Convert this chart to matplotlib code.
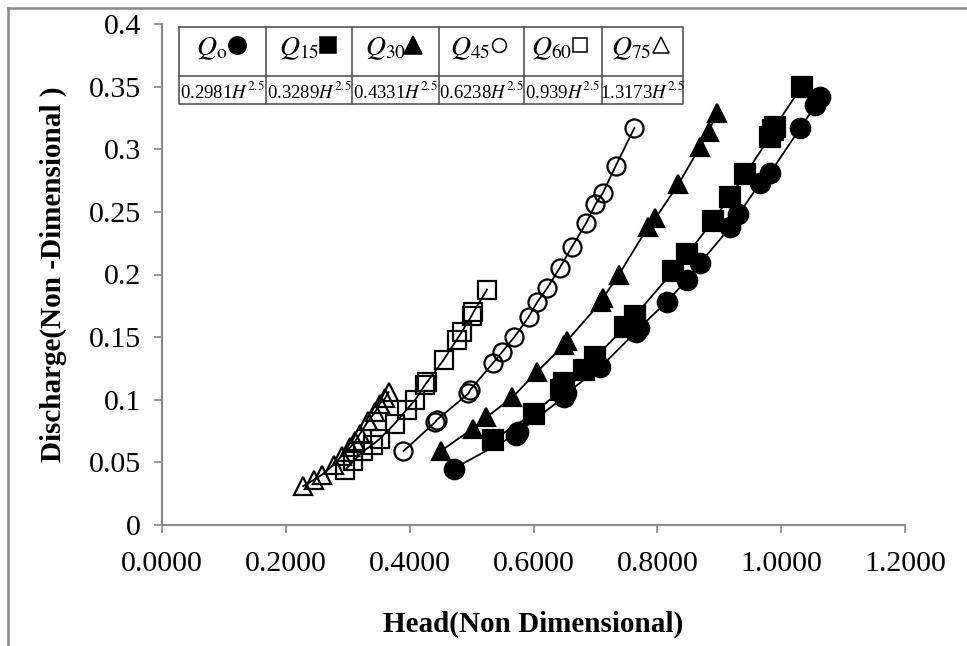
import matplotlib
matplotlib.use("Agg")
import matplotlib.pyplot as plt

plt.rcParams["font.family"] = ["Liberation Serif", "DejaVu Sans"]
plt.rcParams["mathtext.fontset"] = "stix"

# Datos
h0 = [0.471, 0.571, 0.575, 0.649, 0.653, 0.708, 0.765, 0.770, 0.815, 0.848, 0.869,
      0.918, 0.931, 0.966, 0.982, 1.031, 1.055, 1.063]
q0 = [0.045, 0.072, 0.074, 0.102, 0.105, 0.126, 0.154, 0.157, 0.178, 0.196, 0.209,
      0.238, 0.248, 0.273, 0.281, 0.317, 0.335, 0.342]

h15 = [0.535, 0.600, 0.645, 0.650, 0.681, 0.700, 0.748, 0.764, 0.826, 0.848, 0.890,
       0.917, 0.942, 0.982, 0.987, 0.990, 1.033]
q15 = [0.068, 0.089, 0.108, 0.113, 0.124, 0.134, 0.158, 0.167, 0.203, 0.216, 0.243,
       0.262, 0.280, 0.310, 0.315, 0.318, 0.350]

h30 = [0.450, 0.502, 0.524, 0.566, 0.605, 0.650, 0.654, 0.709, 0.712, 0.738, 0.785,
       0.797, 0.834, 0.869, 0.883, 0.896]
q30 = [0.059, 0.077, 0.086, 0.102, 0.122, 0.144, 0.147, 0.178, 0.181, 0.200, 0.238,
       0.245, 0.272, 0.302, 0.314, 0.329]

h45 = [0.390, 0.441, 0.444, 0.495, 0.498, 0.534, 0.549, 0.569, 0.592, 0.606, 0.622,
       0.642, 0.662, 0.685, 0.700, 0.712, 0.733, 0.763]
q45 = [0.059, 0.082, 0.084, 0.105, 0.108, 0.129, 0.138, 0.150, 0.166, 0.178, 0.189,
       0.205, 0.222, 0.241, 0.256, 0.265, 0.287, 0.317]

h60 = [0.296, 0.309, 0.325, 0.340, 0.352, 0.376, 0.395, 0.409, 0.425, 0.428, 0.455,
       0.476, 0.484, 0.500, 0.503, 0.525]
q60 = [0.044, 0.051, 0.059, 0.064, 0.069, 0.081, 0.092, 0.100, 0.112, 0.114, 0.132,
       0.148, 0.154, 0.167, 0.170, 0.188]

h75 = [0.228, 0.245, 0.258, 0.277, 0.290, 0.304, 0.312, 0.320, 0.333, 0.344, 0.352,
       0.360, 0.366]
q75 = [0.031, 0.036, 0.040, 0.048, 0.055, 0.062, 0.067, 0.073, 0.083, 0.090, 0.097,
       0.101, 0.106]

etiquetas = [r"$Q_{\mathrm{o}}$", r"$Q_{15}$", r"$Q_{30}$", r"$Q_{45}$", r"$Q_{60}$", r"$Q_{75}$"]
ecuaciones = [r"0.2981$H^{2.5}$", r"0.3289$H^{2.5}$", r"0.4331$H^{2.5}$",
              r"0.6238$H^{2.5}$", r"0.939$H^{2.5}$", r"1.3173$H^{2.5}$"]

x_ticks = [0.0, 0.2, 0.4, 0.6, 0.8, 1.0, 1.2]
y_ticks = [0, 0.05, 0.1, 0.15, 0.2, 0.25, 0.3, 0.35, 0.4]
y_tick_labels = ["0", "0.05", "0.1", "0.15", "0.2", "0.25", "0.3", "0.35", "0.4"]

series = [
    (h0, q0, "o", "black", 14),
    (h15, q15, "s", "black", 14),
    (h30, q30, "^", "black", 13),
    (h45, q45, "o", "none", 13),
    (h60, q60, "s", "none", 13.5),
    (h75, q75, "^", "none", 13),
]

W, H = 967, 646
fig = plt.figure(figsize=(W / 100, H / 100), dpi=100)
ax = fig.add_axes([162 / W, 1 - 525 / H, (905 - 162) / W, (525 - 24) / H])

for hx, qy, m, fc, ms in series:
    ax.plot(hx, qy, color="black", lw=1.3, marker=m, markersize=ms,
            markerfacecolor=fc, markeredgecolor="black", markeredgewidth=1.6)

ax.set_xlim(0, 1.2)
ax.set_ylim(0, 0.4)
ax.set_xticks(x_ticks)
ax.set_xticklabels([f"{v:.4f}" for v in x_ticks])
ax.set_yticks(y_ticks)
ax.set_yticklabels(y_tick_labels)
ax.tick_params(axis="both", labelsize=21.5, colors="#888888", labelcolor="black",
               length=6, width=1.2, direction="out")
ax.tick_params(axis="x", pad=13)
ax.tick_params(axis="y", pad=9)
for s in ["top", "right"]:
    ax.spines[s].set_visible(False)
for s in ["left", "bottom"]:
    ax.spines[s].set_color("#888888")
    ax.spines[s].set_linewidth(1.5)

ax.set_xlabel("Head(Non Dimensional)", fontsize=21, fontweight="bold", labelpad=24)
ax.set_ylabel("Discharge(Non -Dimensional )", fontsize=21, fontweight="bold", labelpad=16)

# Capa superior en pixeles para la tabla y el marco
ov = fig.add_axes([0, 0, 1, 1], facecolor="none")
ov.set_xlim(0, W)
ov.set_ylim(H, 0)
ov.axis("off")

# marco exterior (izquierda y arriba)
ov.plot([8, 8], [8, H], color="#888888", lw=1.8)
ov.plot([8, W], [8, 8], color="#888888", lw=1.8)

# tabla de leyenda
cols = [179, 266, 352, 439, 524, 602, 683]
top, mid, bot = 27, 76, 104
ov.plot([cols[0], cols[-1], cols[-1], cols[0], cols[0]], [top, top, bot, bot, top],
        color="#555555", lw=1.2)
ov.plot([cols[0], cols[-1]], [mid, mid], color="#555555", lw=1.2)
for c in cols[1:-1]:
    ov.plot([c, c], [top, bot], color="#555555", lw=1.2)

q_x = [196, 279, 365, 450, 531, 611]
mk_x = [237, 328, 413, 499, 580, 661]
mk = [("o", "black", 12.5), ("s", "black", 12), ("^", "black", 12.5),
      ("o", "none", 10), ("s", "none", 10), ("^", "none", 12)]
for i in range(6):
    ov.text(q_x[i], 49, etiquetas[i], fontsize=20, ha="left", va="center")
    m, fc, ms = mk[i]
    ov.plot([mk_x[i]], [45], marker=m, markersize=ms, markerfacecolor=fc,
            markeredgecolor="black", markeredgewidth=1.1, linestyle="none")
    ov.text((cols[i] + cols[i + 1]) / 2, 91, ecuaciones[i], fontsize=13.5,
            ha="center", va="center")

fig.savefig("out.png", dpi=100)
